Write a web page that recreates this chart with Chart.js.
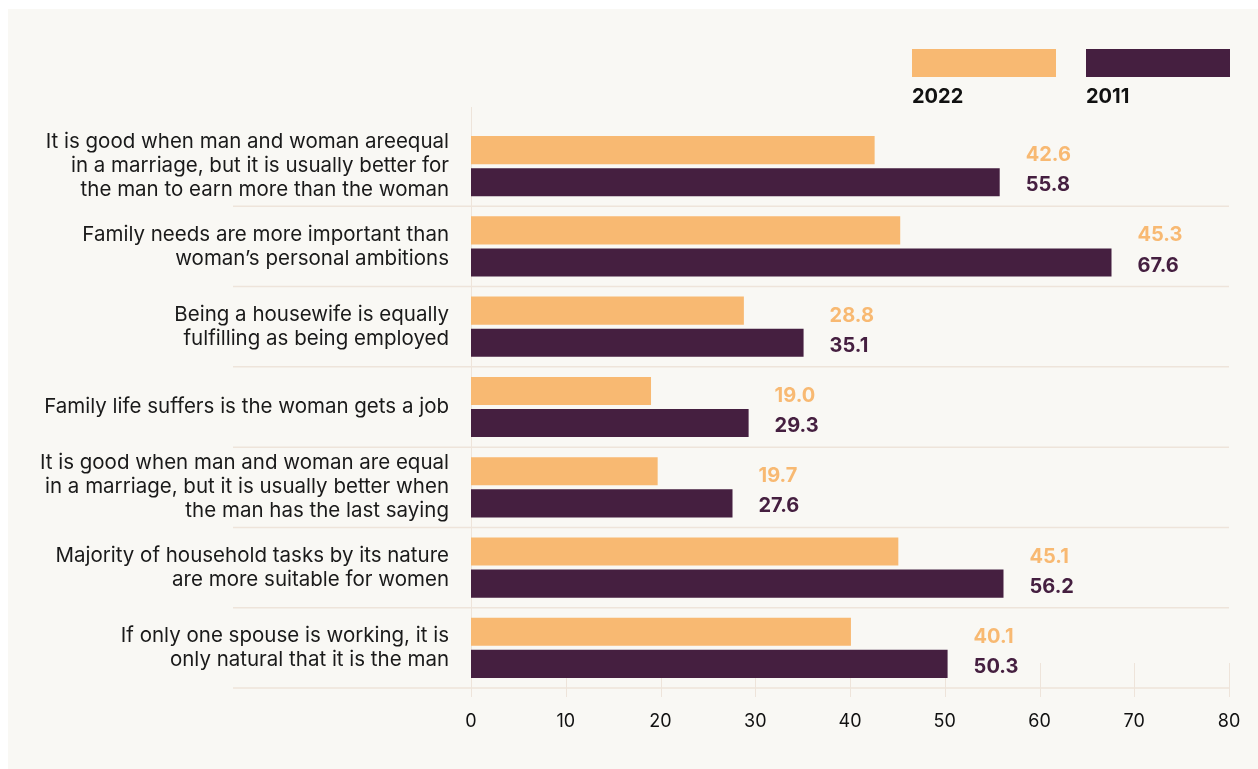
<!DOCTYPE html>
<html>
<head>
<meta charset="utf-8">
<script src="https://cdn.jsdelivr.net/npm/chart.js@4"></script>
<style>
    body { margin: 0; background: #ffffff; font-family: Inter, sans-serif; }
    #wrap { position: relative; width: 1258px; height: 769px; }
    #panel { position: absolute; left: 8px; top: 9px; right: 0; bottom: 0; background: #f9f8f4; }
    #chart { position: absolute; left: 0; top: 0; }
    .key { position: absolute; top: 49px; width: 144px; }
    .key .sw { height: 28px; }
    .key .tx { font: 700 20px Inter, sans-serif; color: #111; margin-top: 7px; }
</style>
</head>
<body>
<div id="wrap">
    <div id="panel"></div>
    <canvas id="chart" width="1258" height="769"></canvas>
    <div class="key" style="left:912px"><div class="sw" style="background:#f8b972"></div><div class="tx">2022</div></div>
    <div class="key" style="left:1086px"><div class="sw" style="background:#451f40"></div><div class="tx">2011</div></div>
</div>
<script>
// --- DATA ---
const categories = [
    ['It is good when man and woman areequal', 'in a marriage, but it is usually better for', 'the man to earn more than the woman'],
    ['Family needs are more important than', 'woman\u2019s personal ambitions'],
    ['Being a housewife is equally', 'fulfilling as being employed'],
    ['Family life suffers is the woman gets a job'],
    ['It is good when man and woman are equal', 'in a marriage, but it is usually better when', 'the man has the last saying'],
    ['Majority of household tasks by its nature', 'are more suitable for women'],
    ['If only one spouse is working, it is', 'only natural that it is the man']
];
const values2022 = [42.6, 45.3, 28.8, 19.0, 19.7, 45.1, 40.1];
const values2011 = [55.8, 67.6, 35.1, 29.3, 27.6, 56.2, 50.3];
const xTicks = [0, 10, 20, 30, 40, 50, 60, 70, 80];

const ORANGE = '#f8b972';
const PLUM = '#451f40';
const LINE = '#eee4da';

// --- PLUGINS ---

// separators between categories + short tick lines on x axis
const decorPlugin = {
    id: 'decor',
    beforeDatasetsDraw(chart) {
        const { ctx, chartArea, scales } = chart;
        const y = scales.y, x = scales.x;
        const step = y.getPixelForValue(1) - y.getPixelForValue(0);
        ctx.save();
        ctx.strokeStyle = LINE;
        ctx.lineWidth = 1.5;
        for (let i = 0; i < categories.length; i++) {
            const yy = y.getPixelForValue(i) + step / 2;
            ctx.beginPath();
            ctx.moveTo(233, yy);
            ctx.lineTo(chartArea.right, yy);
            ctx.stroke();
        }
        ctx.lineWidth = 1;
        xTicks.forEach(t => {
            const xx = Math.round(x.getPixelForValue(t)) + 0.5;
            ctx.beginPath();
            ctx.moveTo(xx, t === 0 ? chartArea.top - 19 : chartArea.bottom - 25);
            ctx.lineTo(xx, chartArea.bottom + 9);
            ctx.stroke();
        });
        ctx.restore();
    }
};

// value labels, left aligned after the longer bar
const valueLabels = {
    id: 'valueLabels',
    afterDatasetsDraw(chart) {
        const { ctx } = chart;
        const m0 = chart.getDatasetMeta(0), m1 = chart.getDatasetMeta(1);
        ctx.save();
        ctx.font = '700 20px Inter, sans-serif';
        ctx.textAlign = 'left';
        ctx.textBaseline = 'middle';
        for (let i = 0; i < categories.length; i++) {
            const a = m0.data[i], b = m1.data[i];
            const xx = Math.max(a.x, b.x) + 26;
            ctx.fillStyle = ORANGE;
            ctx.fillText(values2022[i].toFixed(1), xx, a.y + 5);
            ctx.fillStyle = PLUM;
            ctx.fillText(values2011[i].toFixed(1), xx, b.y + 3);
        }
        ctx.restore();
    }
};

// --- CHART ---
const ctx = document.getElementById('chart').getContext('2d');
new Chart(ctx, {
    type: 'bar',
    data: {
        labels: categories,
        datasets: [
            { label: '2022', data: values2022, backgroundColor: ORANGE, categoryPercentage: 0.8, barPercentage: 0.875 },
            { label: '2011', data: values2011, backgroundColor: PLUM, categoryPercentage: 0.8, barPercentage: 0.875 }
        ]
    },
    options: {
        indexAxis: 'y',
        responsive: false,
        animation: false,
        layout: { padding: { top: 126, right: 29, left: 0, bottom: 0 } },
        plugins: {
            legend: { display: false },
            tooltip: { enabled: false }
        },
        scales: {
            x: {
                min: 0,
                max: 80,
                afterBuildTicks: (s) => { s.ticks = xTicks.map(v => ({ value: v })); },
                afterFit: (s) => { s.height = 81; s.paddingRight = 0; },
                grid: { display: false, drawTicks: false },
                border: { display: false },
                ticks: {
                    padding: 23,
                    color: '#111',
                    font: { family: 'Inter', size: 18 }
                }
            },
            y: {
                afterFit: (s) => { s.width = 471; },
                grid: { display: false, drawTicks: false },
                border: { display: false },
                ticks: {
                    padding: 22,
                    color: '#1a1a1a',
                    font: { family: 'Inter', size: 20.5, lineHeight: 1.17 }
                }
            }
        }
    },
    plugins: [decorPlugin, valueLabels]
});
</script>
</body>
</html>
